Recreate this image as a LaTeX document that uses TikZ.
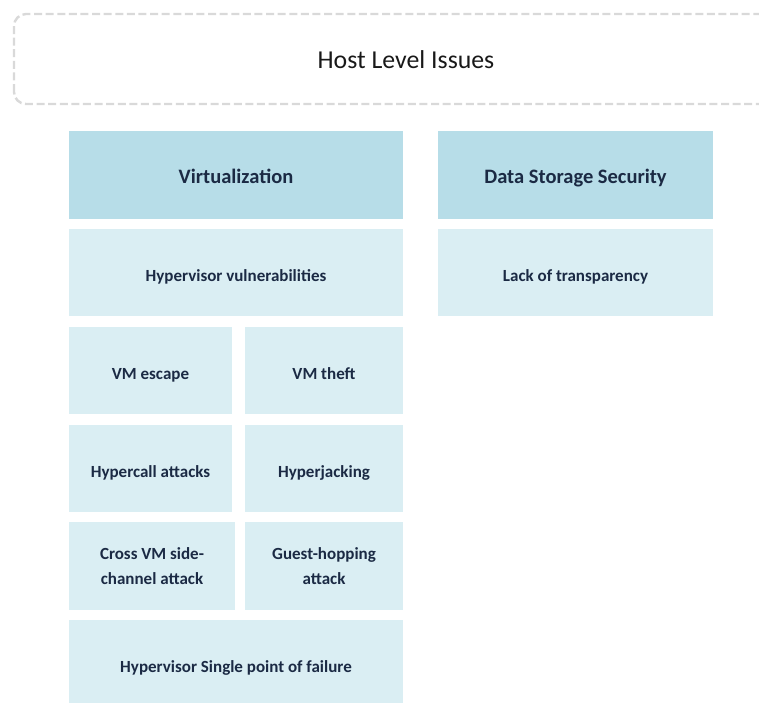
\documentclass[tikz,border=0pt]{standalone}
\usepackage{fontspec}
\setmainfont{Carlito}
\definecolor{headfill}{HTML}{B7DDE8}
\definecolor{cellfill}{HTML}{DAEEF3}
\definecolor{celltext}{HTML}{1B2A44}
\definecolor{dashgray}{HTML}{D9D9D9}
\tikzset{
  cell/.style={fill=cellfill, draw=none, inner sep=0pt, outer sep=0pt,
    text=celltext, align=center,
    font=\fontsize{17}{25}\selectfont\bfseries},
  oneline/.style={text height=20pt, text depth=3pt},
  headcell/.style={cell, fill=headfill, font=\fontsize{20.5}{25}\selectfont\bfseries,
    text height=20pt, text depth=4pt},
  framebox/.style={draw=dashgray, line width=2.4pt, dash pattern=on 8pt off 3.6pt,
    rounded corners=12pt}
}
\begin{document}
\begin{tikzpicture}[x=1pt, y=-1pt]
  \useasboundingbox (0,0) rectangle (759,702);
  \clip (0,0) rectangle (759,702);

  % top banner
  \draw[framebox] (14,104) -- (14,14) -- (800,14) -- (800,104) -- cycle;
  \node[text=black!90, font=\fontsize{25.8}{30}\selectfont] (title) at (406,60) {Host Level Issues};

  % virtualization column
  \node[headcell, minimum width=334pt, minimum height=88pt] (virt) at (236,175) {Virtualization};
  \node[cell, oneline, minimum width=334pt, minimum height=87pt] (hypv) at (236,272.5) {Hypervisor vulnerabilities};
  \node[cell, oneline, minimum width=163pt, minimum height=87pt] (vmesc) at (150.5,370.5) {VM escape};
  \node[cell, oneline, minimum width=158pt, minimum height=87pt] (vmtheft) at (324,370.5) {VM theft};
  \node[cell, oneline, minimum width=163pt, minimum height=87pt] (hcall) at (150.5,468.5) {Hypercall attacks};
  \node[cell, oneline, minimum width=158pt, minimum height=87pt] (hjack) at (324,468.5) {Hyperjacking};
  \node[cell, minimum width=166pt, minimum height=88pt] (cross) at (152,566) {Cross VM side-\\channel attack};
  \node[cell, minimum width=158pt, minimum height=88pt] (guest) at (324,566) {Guest-hopping\\attack};
  \node[cell, oneline, minimum width=334pt, minimum height=88pt] (spof) at (236,664) {Hypervisor Single point of failure};

  % data storage column
  \node[headcell, minimum width=275pt, minimum height=88pt] (dss) at (575.5,175) {Data Storage Security};
  \node[cell, oneline, minimum width=275pt, minimum height=87pt] (lack) at (575.5,272.5) {Lack of transparency};
\end{tikzpicture}
\end{document}
